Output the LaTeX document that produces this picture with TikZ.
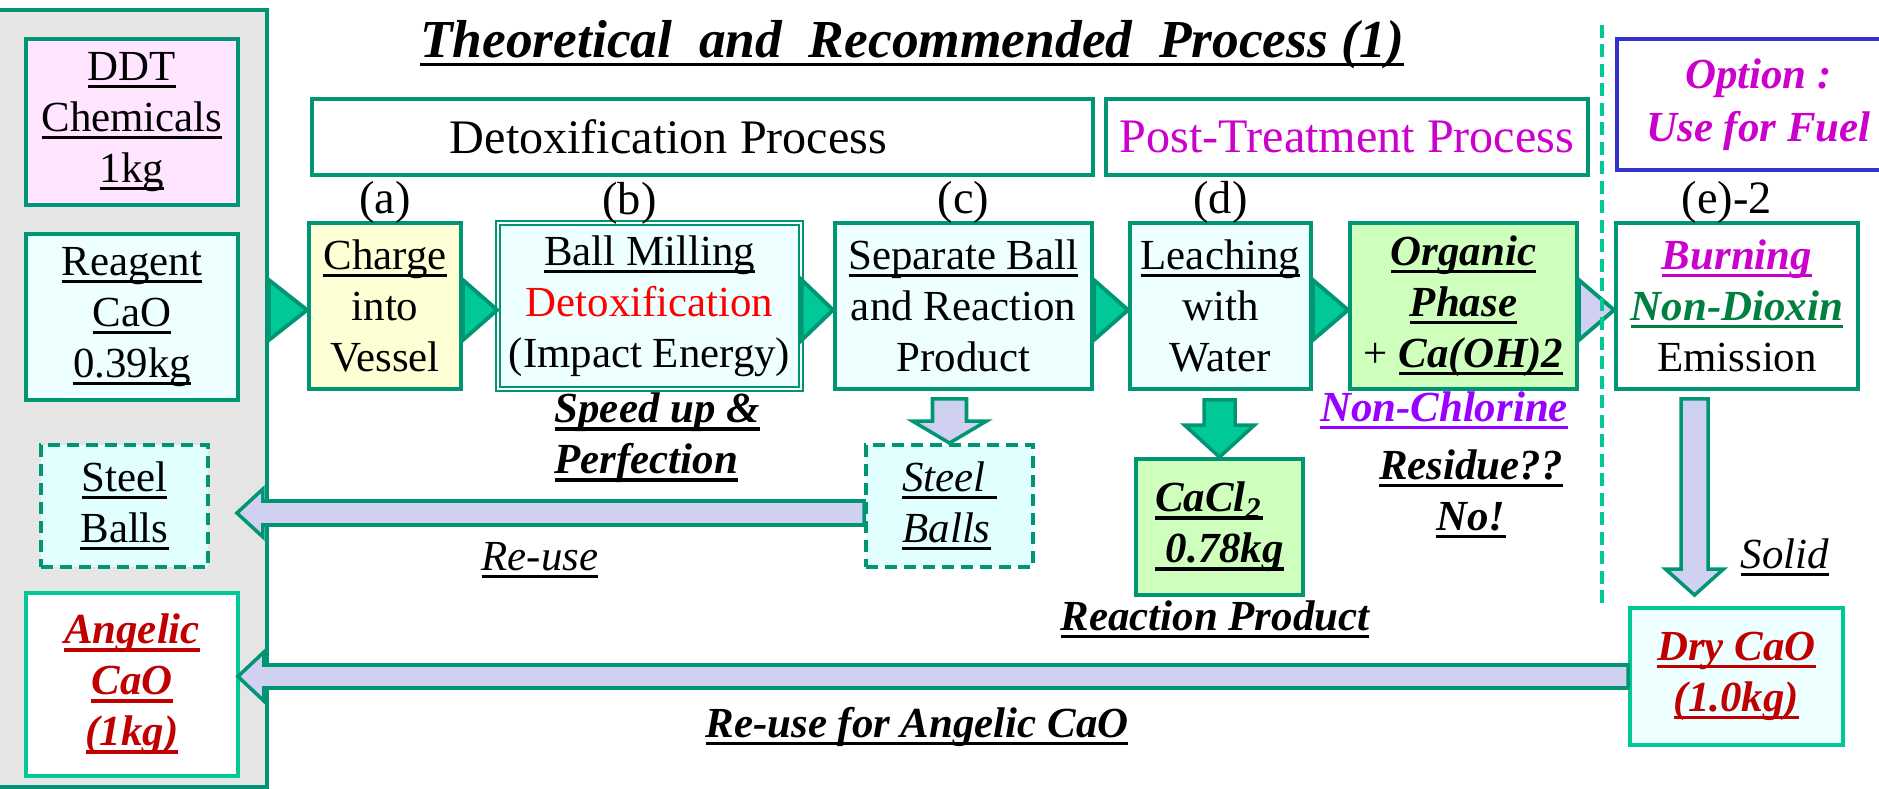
\documentclass[tikz,border=0pt]{standalone}
\usepackage{fontspec}
\setmainfont{Liberation Serif}
\usetikzlibrary{calc,positioning}

\definecolor{boxgreen}{RGB}{0,150,115}
\definecolor{lightgreen}{RGB}{0,200,150}
\definecolor{arrowfill}{RGB}{208,208,240}
\definecolor{panelgray}{RGB}{229,229,229}
\definecolor{pinkfill}{RGB}{255,229,255}
\definecolor{cyanfill}{RGB}{238,255,255}
\definecolor{dashfill}{RGB}{226,255,255}
\definecolor{yellowfill}{RGB}{255,255,213}
\definecolor{greenfill}{RGB}{206,255,188}
\definecolor{optionblue}{RGB}{51,51,204}
\definecolor{magentatext}{RGB}{204,0,204}
\definecolor{violettext}{RGB}{153,0,255}
\definecolor{darkred}{RGB}{192,0,0}
\definecolor{dioxingreen}{RGB}{0,128,64}

% underline sitting just below the baseline
\newcommand{\undl}[1]{\setbox0=\hbox{#1}\leavevmode\rlap{\vrule height -1.3pt depth 2.2pt width \wd0}\box0}
\newcommand{\bi}{\bfseries\itshape}

\begin{document}
\fontsize{12.2}{14.5}\selectfont
\begin{tikzpicture}[x=1mm, y=-1mm,
  every node/.style={inner sep=0pt, align=center},
  panel/.style={draw=boxgreen, line width=1.1pt, fill=panelgray},
  stepbox/.style={draw=boxgreen, line width=1.1pt, fill=cyanfill, minimum height=16.6mm},
  dashbox/.style={draw=boxgreen, line width=1.1pt, dash pattern=on 1.2mm off 0.7mm, fill=dashfill},
  header/.style={draw=boxgreen, line width=1.1pt, fill=white, minimum height=7.6mm, font=\fontsize{13.7}{16}\selectfont},
  tag/.style={font=\fontsize{13.2}{15}\selectfont},
  note/.style={font=\bi},
  chevron/.style={draw=boxgreen, line width=1.1pt, fill=lightgreen},
  fatarrow/.style={draw=boxgreen, line width=1pt, fill=arrowfill}]

  \useasboundingbox (0,0) rectangle (187.9,78.9);

  % left column: inputs and recycled material
  \node[panel, minimum width=27.2mm, minimum height=77.7mm] (panel) at (13.1,39.85) {};
  \node[stepbox, fill=pinkfill, minimum width=21.2mm] (ddt) at (13.2,12.2) {\undl{DDT}\\\undl{Chemicals}\\\undl{1kg}};
  \node[stepbox, minimum width=21.2mm] (cao) at (13.2,31.7) {\undl{Reagent}\\\undl{CaO}\\\undl{0.39kg}};
  \node[dashbox, minimum width=16.7mm, minimum height=12.2mm] (sl) at (12.45,50.6) {\undl{Steel}\\\undl{Balls}};
  \node[stepbox, draw=lightgreen, fill=white, minimum width=21.2mm, minimum height=18.3mm, font=\bi, text=darkred] (ang) at (13.2,68.45) {\undl{Angelic}\\\undl{CaO}\\\undl{(1kg)}};

  \node[anchor=base, font=\fontsize{15.2}{18}\selectfont\bi] (title) at (91.2,5.8) {\undl{Theoretical\enspace and\enspace Recommended\enspace Process (1)}};

  \node[header, minimum width=78.1mm] (detox) at (70.25,13.7) {Detoxification Process\hspace*{6.8mm}};
  \node[header, minimum width=48.2mm, text=magentatext] (post) at (134.7,13.7) {Post-Treatment Process};
  \node[draw=optionblue, line width=1.4pt, fill=white, minimum width=28.3mm, minimum height=13.1mm, font=\fontsize{12.2}{15}\selectfont\bi, text=magentatext] (opt) at (175.85,10.45) {\rule{0pt}{1.2mm}Option :\\Use for Fuel};

  % process steps
  \node[stepbox, fill=yellowfill, minimum width=15.2mm] (charge) at (38.5,30.6) {\undl{Charge}\\into\\Vessel};
  \node[stepbox, line width=0.45pt, double=white, double distance=0.7pt, minimum width=30.3mm] (mill) at (64.95,30.6) {\undl{Ball Milling}\\{\color{red}Detoxification}\\(Impact Energy)};
  \node[stepbox, minimum width=25.7mm] (sep) at (96.35,30.6) {\undl{Separate Ball}\\and Reaction\\Product};
  \node[stepbox, minimum width=18.1mm] (leach) at (122.05,30.6) {\undl{Leaching}\\with\\Water};
  \node[stepbox, fill=greenfill, minimum width=22.7mm] (org) at (146.35,30.6) {{\bi\undl{Organic}}\\{\bi\undl{Phase}}\\+ {\bi\undl{Ca(OH)2}}};
  \node[stepbox, fill=white, minimum width=24.2mm] (burn) at (173.7,30.6) {{\bi\color{magentatext}\undl{Burning}}\\{\bi\color{dioxingreen}\undl{Non-Dioxin}}\\Emission};

  \node[tag, above=-0.3mm of charge] (la) {(a)};
  \node[tag, above=-0.3mm of mill, xshift=-2mm] (lb) {(b)};
  \node[tag, above=-0.3mm of sep] (lc) {(c)};
  \node[tag, above=-0.3mm of leach] (ld) {(d)};
  \node[tag, above=-0.3mm of burn, xshift=-1mm] (le) {(e)-2};

  % products
  \node[dashbox, minimum width=16.7mm, minimum height=12.2mm, font=\itshape, align=left] (sc) at (94.95,50.6) {\undl{Steel\ }\\\undl{Balls}};
  \node[stepbox, fill=greenfill, minimum width=16.7mm, minimum height=13.6mm, font=\bi, align=left] (cacl) at (121.95,52.7) {\undl{CaCl\textsubscript{2}}\\\undl{\ 0.78kg}};
  \node[stepbox, draw=lightgreen, minimum width=21.3mm, minimum height=13.7mm, font=\bi, text=darkred] (dry) at (173.65,67.65) {\undl{Dry CaO}\\\undl{(1.0kg)}};

  % remarks
  \node[note, align=left, anchor=west] (speed) at (55.4,43.8) {\undl{Speed up \&}\\\undl{Perfection}};
  \node[font=\itshape] (reuse) at (54.0,56.0) {\undl{Re-use}};
  \node[note] (rp) at (121.5,61.9) {\undl{Reaction Product}};
  \node[note, text=violettext] (noncl) at (144.4,41.0) {\undl{Non-Chlorine}};
  \node[note] (resid) at (147.1,49.4) {\undl{Residue??}\\\undl{No!}};
  \node[font=\itshape] (solid) at (178.5,55.7) {\undl{Solid}};
  \node[note] (reuse2) at (91.7,72.7) {\undl{Re-use for Angelic CaO}};

  % chevrons along the main line
  \draw[chevron] ($(panel.east |- charge.west)+(0,-2.6)$) -- ($(panel.east |- charge.west)+(0,3.4)$) -- ($(charge.west)+(0,0.4)$) -- cycle;
  \foreach \a/\b in {charge/mill, mill/sep, sep/leach, leach/org} {
    \draw[chevron] ($(\a.east)+(0,-2.6)$) -- ($(\a.east)+(0,3.4)$) -- ($(\b.west)+(0,0.4)$) -- cycle;
  }
  \draw[chevron, fill=arrowfill] ($(org.east)+(0,-2.6)$) -- ($(org.east)+(0,3.4)$) -- ($(burn.west)+(0,0.4)$) -- cycle;

  % down arrows
  \coordinate (s1) at ($(sc.north |- sep.south)+(0,0.8)$);
  \draw[fatarrow] ($(s1)+(-1.7,0)$) -- ($(sc.north)+(-1.7,-2.2)$) -- ($(sc.north)+(-3.7,-2.2)$) -- (sc.north)
    -- ($(sc.north)+(3.7,-2.2)$) -- ($(sc.north)+(1.7,-2.2)$) -- ($(s1)+(1.7,0)$) -- cycle;

  \coordinate (s2) at ($(cacl.north |- leach.south)+(0,0.9)$);
  \draw[fatarrow, fill=lightgreen] ($(s2)+(-1.55,0)$) -- ($(cacl.north)+(-1.55,-3.2)$) -- ($(cacl.north)+(-3.5,-3.2)$) -- (cacl.north)
    -- ($(cacl.north)+(3.5,-3.2)$) -- ($(cacl.north)+(1.55,-3.2)$) -- ($(s2)+(1.55,0)$) -- cycle;

  \coordinate (t3) at ($(dry.north)+(-4.2,-1.1)$);
  \coordinate (s3) at ($(t3 |- burn.south)+(0,0.8)$);
  \draw[fatarrow] ($(s3)+(-1.35,0)$) -- ($(t3)+(-1.35,-2.6)$) -- ($(t3)+(-2.9,-2.6)$) -- (t3)
    -- ($(t3)+(2.9,-2.6)$) -- ($(t3)+(1.35,-2.6)$) -- ($(s3)+(1.35,0)$) -- cycle;

  % return arrows
  \coordinate (r1) at ($(sc.west)+(0,0.7)$);
  \coordinate (t1) at ($(sl.east)+(2.7,0.7)$);
  \draw[fatarrow] ($(r1)+(0,-1.2)$) -- ($(t1)+(2.6,-1.2)$) -- ($(t1)+(2.6,-2.4)$) -- (t1)
    -- ($(t1)+(2.6,2.4)$) -- ($(t1)+(2.6,1.2)$) -- ($(r1)+(0,1.2)$) -- cycle;

  \coordinate (t2) at ($(ang.east |- dry.west)+(-0.2,0)$);
  \draw[fatarrow] ($(dry.west)+(0,-1.15)$) -- ($(t2)+(2.6,-1.15)$) -- ($(t2)+(2.6,-2.45)$) -- (t2)
    -- ($(t2)+(2.6,2.45)$) -- ($(t2)+(2.6,1.15)$) -- ($(dry.west)+(0,1.15)$) -- cycle;

  % divider before the optional step
  \draw[lightgreen, line width=1.4pt, dash pattern=on 1.3mm off 0.65mm] (160.2,2.5) -- (160.2,60.9);

\end{tikzpicture}
\end{document}
